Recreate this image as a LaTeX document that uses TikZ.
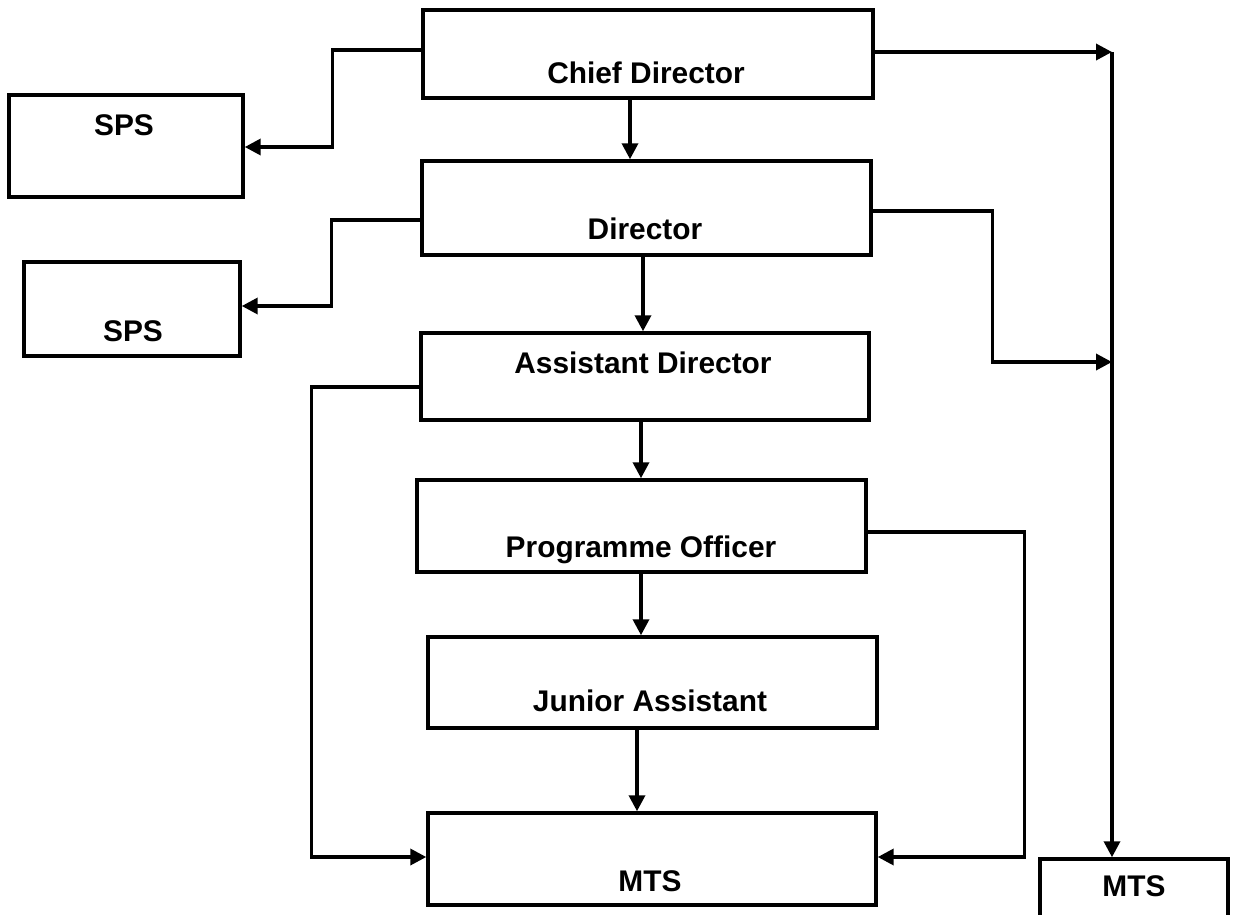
\documentclass[tikz,border=0pt]{standalone}
\usepackage{fontspec}
\setmainfont{Liberation Sans}
\usepackage{tikz}
\usetikzlibrary{arrows.meta}

\tikzset{
    box/.style={draw, line width=2pt, inner sep=0pt},
    boxtext/.style={anchor=base, font=\bfseries\fontsize{17}{20}\selectfont},
    arr/.style={line width=2pt, -{Triangle[length=0.32cm,width=0.32cm]}}
}

\begin{document}
\begin{tikzpicture}[x=0.02cm, y=-0.02cm]
    \path[use as bounding box, clip] (0,0) rectangle (1238,914);

    \node[box, minimum width=9cm, minimum height=1.76cm] (chief) at (648,54) {};
    \node[box, minimum width=4.68cm, minimum height=2.04cm] (sps1) at (126,146) {};
    \node[box, minimum width=8.98cm, minimum height=1.88cm] (director) at (646.5,208) {};
    \node[box, minimum width=4.32cm, minimum height=1.88cm] (sps2) at (132,309) {};
    \node[box, minimum width=8.96cm, minimum height=1.74cm] (asst) at (645,376.5) {};
    \node[box, minimum width=8.98cm, minimum height=1.84cm] (prog) at (641.5,526) {};
    \node[box, minimum width=8.98cm, minimum height=1.82cm] (junior) at (652.5,682.5) {};
    \node[box, minimum width=8.96cm, minimum height=1.84cm] (mts) at (652,859) {};
    \node[box, minimum width=3.76cm, minimum height=1.64cm] (mts2) at (1134,900) {};

    \node[boxtext] (chief-t) at (646,83) {Chief Director};
    \node[boxtext] (sps1-t) at (124,135) {SPS};
    \node[boxtext] (director-t) at (645,239) {Director};
    \node[boxtext] (sps2-t) at (133,341) {SPS};
    \node[boxtext] (asst-t) at (643,373) {Assistant Director};
    \node[boxtext] (prog-t) at (641,557) {Programme Officer};
    \node[boxtext] (junior-t) at (650,711) {Junior Assistant};
    \node[boxtext] (mts-t) at (650,891) {MTS};
    \node[boxtext] (mts2-t) at (1134,896) {MTS};

    \coordinate (bus) at (1112,52);
    \coordinate (busjoin) at (1112,362);

    \draw[arr] (chief.south -| 630,0) -- (director.north -| 630,0);
    \draw[arr] (director.south -| 643,0) -- (asst.north -| 643,0);
    \draw[arr] (asst.south -| 641,0) -- (prog.north -| 641,0);
    \draw[arr] (prog.south -| 641,0) -- (junior.north -| 641,0);
    \draw[arr] (junior.south -| 637,0) -- (mts.north -| 637,0);

    \draw[arr]
        (chief.west |- 0,50)
        -- ++(-89,0)
        |- (sps1.east |- 0,147);
    \draw[arr]
        (director.west |- 0,220)
        -- ++(-89,0)
        |- (sps2.east |- 0,306);

    \draw[arr] (chief.east |- bus) -- (bus);
    \draw[arr] (bus) -- (mts2.north -| bus);
    \draw[arr]
        (director.east |- 0,211)
        -- ++(120,0)
        |- (busjoin);

    \draw[arr]
        (asst.west |- 0,387)
        -- ++(-108,0)
        |- (mts.west |- 0,857);
    \draw[arr]
        (prog.east |- 0,532)
        -- ++(157,0)
        |- (mts.east |- 0,857);
\end{tikzpicture}
\end{document}
